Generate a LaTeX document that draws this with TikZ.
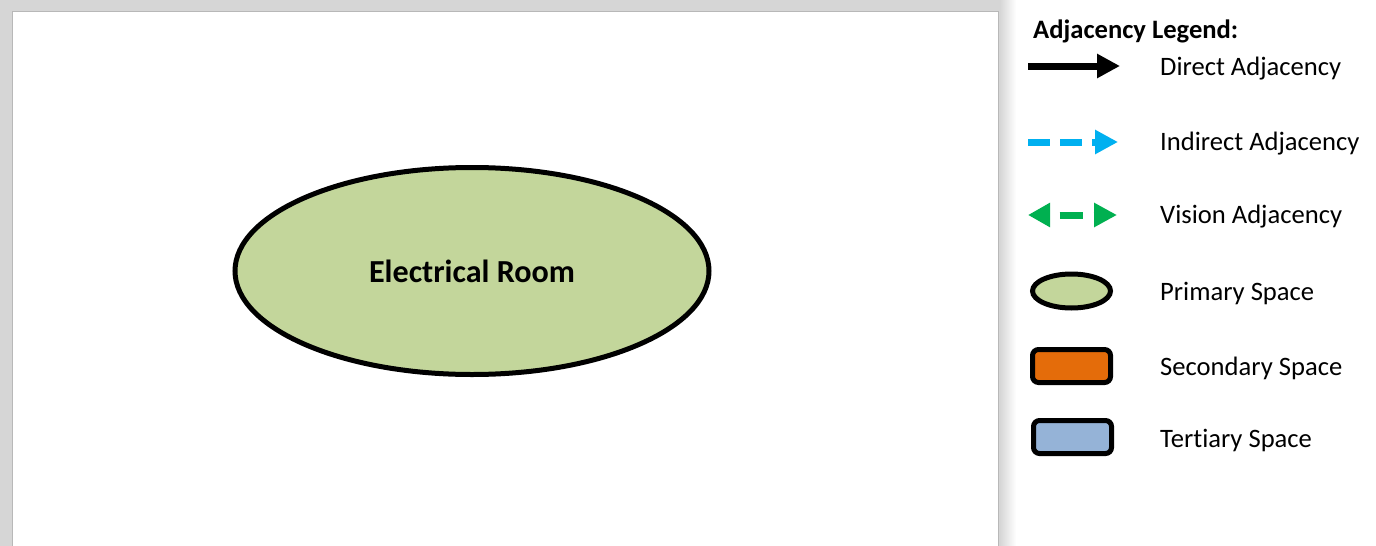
\documentclass[tikz,border=0pt]{standalone}
\usepackage{fontspec}
\setmainfont{Carlito}[Ligatures=NoCommon]
\usetikzlibrary{positioning, arrows.meta, shapes.geometric}
\definecolor{primary}{HTML}{C3D69B}
\definecolor{secondary}{HTML}{E46C0A}
\definecolor{tertiary}{HTML}{95B3D7}
\definecolor{indirect}{HTML}{00B0F0}
\definecolor{vision}{HTML}{00B050}
\definecolor{shadow}{HTML}{D6D6D6}

\begin{document}
\begin{tikzpicture}[x=1pt, y=-1pt,
  every node/.style={inner sep=0pt},
  sheet/.style={rectangle, draw=black!28, line width=0.8pt, fill=white,
                minimum width=986pt, minimum height=560pt},
  lbl/.style={anchor=west, font=\fontsize{26.6}{30}\selectfont},
  space/.style={draw=black, line width=5pt},
  primaryspace/.style={space, ellipse, fill=primary},
  boxspace/.style={space, rectangle, rounded corners=6pt,
                   minimum width=78pt, minimum height=33pt},
  adj/.style={line width=7pt, -{Triangle[length=23pt, width=23pt]}}
]
  \useasboundingbox (0,0) rectangle (1376,546);
  \fill[white] (0,0) rectangle (1376,546);
  % page shadow
  \fill[shadow] (0,0) rectangle (1000,546);
  \shade[left color=shadow, right color=white] (1000,0) rectangle (1016,546);
  \node[sheet, anchor=north west] (page) at (12,11) {};

  \node[primaryspace, minimum width=474pt, minimum height=207pt,
        font=\fontsize{32.1}{36}\selectfont\bfseries] (room) at (472,271) {Electrical Room};

  % legend
  \node[anchor=west, font=\fontsize{26.6}{30}\selectfont\bfseries] (title) at (1033,31) {Adjacency Legend:};

  \coordinate (direct-a) at (1028,66);
  \coordinate (direct-b) at (1120,66);
  \coordinate (indirect-a) at (1028,142);
  \coordinate (indirect-b) at (1118,142);
  \coordinate (vision-a) at (1028,215);
  \coordinate (vision-b) at (1117,215);
  \draw[adj, black] (direct-a) -- (direct-b);
  \draw[adj, indirect, dash pattern=on 22pt off 10pt] (indirect-a) -- (indirect-b);
  \draw[adj, vision, {Triangle[length=22pt, width=23pt]}-{Triangle[length=23pt, width=23pt]},
        dash pattern=on 23pt off 11pt, dash phase=23pt] (vision-a) -- (vision-b);

  \node[primaryspace, minimum width=78pt, minimum height=34pt] (prim) at (1071.5,291) {};
  \node[boxspace, fill=secondary] (sec) at (1071.5,366) {};
  \node[boxspace, fill=tertiary] (tert) at (1072.5,437) {};

  \node[lbl] (direct-l) at (1160,69) {Direct Adjacency};
  \node[lbl] (indirect-l) at (1160,144) {Indirect Adjacency};
  \node[lbl] (vision-l) at (1160,217) {Vision Adjacency};
  \node[lbl] (prim-l) at (1160,293) {Primary Space};
  \node[lbl] (sec-l) at (1160,368) {Secondary Space};
  \node[lbl] (tert-l) at (1160,440) {Tertiary Space};
\end{tikzpicture}
\end{document}
